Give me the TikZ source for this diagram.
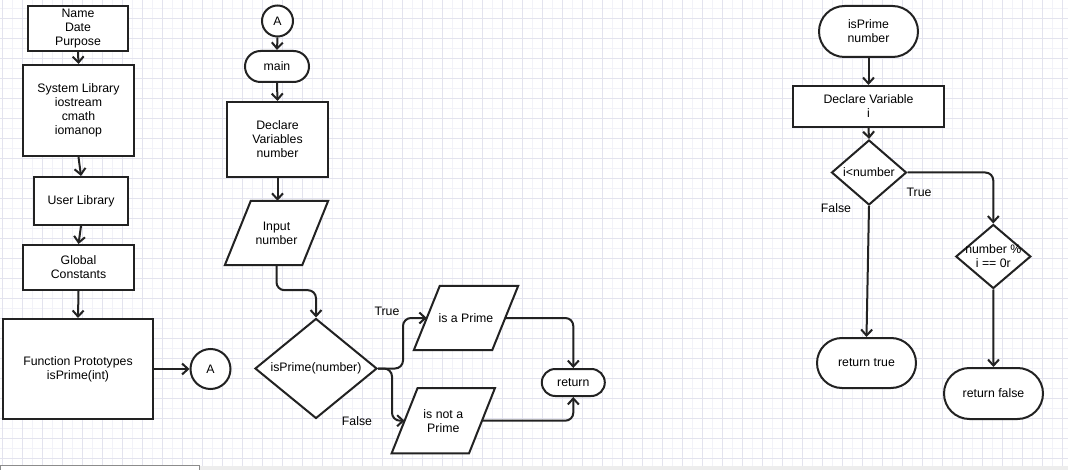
\documentclass[tikz,border=0pt]{standalone}
\usepackage{fontspec}
\setmainfont{Liberation Sans}
\usetikzlibrary{shapes.geometric,shapes.misc,arrows.meta}
\newcommand\dgfont{\fontsize{12.3}{14}\selectfont}
\definecolor{ink}{HTML}{222222}
\definecolor{gridmaj}{HTML}{E3E3EE}
\definecolor{gridmin}{HTML}{F2F2F8}
\pgfdeclarelayer{bg}
\pgfdeclarelayer{mid}
\pgfsetlayers{bg,mid,main}
\begin{document}
\begin{tikzpicture}[x=1pt,y=-1pt,
  ln/.style={line width=2pt, draw=ink},
  arr/.style={ln, -{Straight Barb[length=6pt,width=11pt]}},
  rarr/.style={arr, rounded corners=8pt},
  shp/.style={draw=ink, line width=2pt, fill=white, align=center, font=\dgfont, inner sep=1pt, text=black},
  box/.style={shp, rectangle},
  term/.style={shp, rounded rectangle},
  iobody/.style={rectangle, align=center, font=\dgfont, inner sep=1pt, text=black},
  ioedge/.style={draw=ink, line width=2pt, fill=white, line join=miter},
  dec/.style={shp, diamond, inner sep=0pt},
  con/.style={shp, circle, inner sep=0pt},
  txt/.style={font=\dgfont, align=center, inner sep=0pt, text=black},
]
\useasboundingbox (0,0) rectangle (1068,470);
\begin{pgfonlayer}{bg}
\fill[white] (0,0) rectangle (1068,470);
\foreach \x in {12,32,...,1062} \draw[gridmin, line width=0.6pt] (\x,0) -- (\x,466);
\foreach \y in {8,28,...,458} \draw[gridmin, line width=0.6pt] (0,\y) -- (1068,\y);
\foreach \x in {2,22,...,1062} \draw[gridmaj, line width=0.8pt] (\x,0) -- (\x,466);
\foreach \y in {18,38,...,458} \draw[gridmaj, line width=0.8pt] (0,\y) -- (1068,\y);
\fill[black!7] (0,465.5) rectangle (1068,471);
\draw[black!45, fill=white, line width=0.8pt] (0.4,465.8) rectangle (199,472);
\end{pgfonlayer}

% left column
\node[box, minimum width=100pt, minimum height=45pt] (n1) at (78,28.5) {Name\\Date\\Purpose};
\node[box, minimum width=111pt, minimum height=91pt] (n2) at (78.5,110.5) {System Library\\iostream\\cmath\\iomanop};
\node[box, minimum width=94pt, minimum height=48pt] (n3) at (81,201) {User Library};
\node[box, minimum width=111pt, minimum height=45pt] (n4) at (78.5,267.5) {Global\\Constants};
\node[box, minimum width=150pt, minimum height=100pt] (n5) at (78,369) {Function Prototypes\\isPrime(int)};
\node[con, minimum size=40pt] (A1) at (210.5,369) {A};
\draw[arr] (n1.south) -- (n2.north);
\draw[arr] (n2.south) -- (n3.north);
\draw[arr] (n3.south) -- (n4.north);
\draw[arr] (n4.south) -- (n5.north);
\draw[arr] (n5.east) -- (A1.west);

% middle column
\node[con, minimum size=31pt] (A2) at (277.5,21) {A};
\node[term, minimum width=66pt, minimum height=31pt] (main) at (277,66.5) {main};
\node[box, minimum width=101pt, minimum height=75pt] (decl) at (277.5,139.5) {Declare\\Variables\\number};
\node[iobody, minimum width=77pt, minimum height=64pt] (inp) at (276.5,233) {Input\\number};
\node[dec, minimum width=122pt, minimum height=100pt] (isp) at (316,368.5) {};
\node[txt] (ispt) at (isp.center) {isPrime(number)};
\node[iobody, minimum width=78pt, minimum height=64pt] (pr) at (466,318) {is a Prime};
\node[iobody, minimum width=77pt, minimum height=65pt] (npr) at (443.3,420.7) {is not a\\Prime};
\begin{pgfonlayer}{mid}
\foreach \p in {inp,pr,npr}
  \draw[ioedge] ([xshift=-13pt]\p.south west) -- ([xshift=-13pt]\p.south east)
     -- ([xshift=13pt]\p.north east) -- ([xshift=13pt]\p.north west) -- cycle;
\end{pgfonlayer}
\node[term, minimum width=65pt, minimum height=27pt] (ret) at (573.3,382.5) {return};
\node[txt] (tT) at (387,311) {True};
\node[txt] (tF) at (357,421) {False};
\draw[arr] (A2.south) -- (main.north);
\draw[arr] (main.south) -- (decl.north);
\draw[arr] (decl.south) -- (decl.south |- inp.north);
\draw[rarr] (inp.south) -- ++(0,25) -| (isp.north);
\draw[rarr] (isp.east) -- ++(25,0) |- (pr.west);
\draw[rarr] (isp.east) -- ++(14,0) |- (npr.west);
\draw[rarr] (pr.east) -| (ret.north);
\draw[rarr] (npr.east) -| (ret.south);

% right column
\node[term, minimum width=101pt, minimum height=51pt] (ipn) at (868.5,31.5) {isPrime\\number};
\node[box, minimum width=151pt, minimum height=41pt] (dv) at (868.5,106.5) {Declare Variable\\i};
\node[dec, minimum width=75pt, minimum height=65pt] (d1) at (869,172.5) {};
\node[txt] (d1t) at (d1.center) {i\textless number};
\node[dec, minimum width=75pt, minimum height=64pt] (d2) at (993.3,256.5) {};
\node[txt] (d2t) at (d2.center) {number \%\\i == 0r};
\node[term, minimum width=101pt, minimum height=50pt] (rt) at (866.5,363) {return true};
\node[term, minimum width=101pt, minimum height=51pt] (rf) at (993.5,393.5) {return false};
\node[txt] (rT) at (919,192) {True};
\node[txt] (rF) at (836,208) {False};
\draw[arr] (ipn.south) -- (dv.north);
\draw[arr] (dv.south) -- (d1.north);
\draw[rarr] (d1.east) -| (d2.north);
\draw[arr] (d1.south) -- (rt.north);
\draw[arr] (d2.south) -- (rf.north);
\end{tikzpicture}
\end{document}
